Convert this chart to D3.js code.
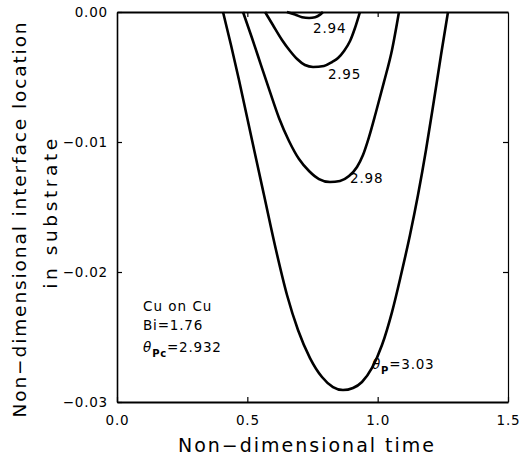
<!DOCTYPE html>
<html><head><meta charset="utf-8">
<script src="https://cdn.jsdelivr.net/npm/d3@7/dist/d3.min.js"></script>
<style>
html,body{margin:0;padding:0;background:#fff;}
text{font-family:"DejaVu Sans",sans-serif;fill:#000;}
</style></head>
<body><svg id="c" width="522" height="460"></svg>
<script>
// ---- data ----
const xTicks = [0.0, 0.5, 1.0, 1.5];
const yTicks = [0.00, -0.01, -0.02, -0.03];
const innerXTicks = [0.5, 1.0];
const innerYTicks = [-0.01, -0.02];

// theta_P = 3.03
const t303 = [0.4067,0.4373,0.4680,0.5179,0.5639,0.6100,0.6522,0.6944,0.7404,0.7864,0.8286,0.8670,0.9054,0.9399,0.9782,1.0166,1.0550,1.0895,1.1240,1.1547,1.1854,1.2161,1.2430,1.2698];
const v303 = [0,-0.00254,-0.00523,-0.00985,-0.01408,-0.01831,-0.02177,-0.02446,-0.02662,-0.02808,-0.02885,-0.02908,-0.02892,-0.02846,-0.02738,-0.02562,-0.02308,-0.02023,-0.01715,-0.01408,-0.01062,-0.00677,-0.00331,0];
// theta_P = 2.98
const t298 = [0.4834,0.5179,0.5524,0.5869,0.6215,0.6598,0.6982,0.7366,0.7749,0.8171,0.8555,0.8900,0.9207,0.9437,0.9667,0.9936,1.0243,1.0550,1.0818];
const v298 = [0,-0.0020,-0.00408,-0.00615,-0.00815,-0.00992,-0.01131,-0.01223,-0.01285,-0.01308,-0.0130,-0.01262,-0.01192,-0.0110,-0.00962,-0.00769,-0.00538,-0.00292,0];
// theta_P = 2.95
const t295 = [0.568,0.598,0.633,0.664,0.691,0.721,0.752,0.794,0.825,0.848,0.871,0.894,0.913,0.932];
const v295 = [0,-0.0010,-0.00215,-0.0030,-0.00362,-0.00408,-0.00423,-0.00415,-0.00385,-0.00354,-0.0030,-0.00223,-0.00123,0];
// theta_P = 2.94
const t294 = [0.652,0.683,0.710,0.737,0.760,0.779,0.790];
const v294 = [0,-0.0002,-0.0004,-0.00046,-0.0004,-0.0002,0];

const series = [
  {t:t303, v:v303},
  {t:t298, v:v298},
  {t:t295, v:v295},
  {t:t294, v:v294}
];
const curveLabels = ["2.94","2.95","2.98"];
const curveLabelPos = [[0.752,-0.00162],[0.809,-0.00515],[0.894,-0.01315]];

// ---- layout ----
const L=117, R=508, T=12, B=402;
const svg = d3.select("#c");
const x = d3.scaleLinear().domain([0,1.5]).range([L,R]);
const y = d3.scaleLinear().domain([-0.03,0]).range([B,T]);

const fs = "13.5px", ls = "0.8px";
const gx = svg.append("g").attr("transform",`translate(0,${B})`)
  .call(d3.axisBottom(x).tickValues(xTicks).tickFormat(d3.format(".1f")).tickSizeInner(-5).tickSizeOuter(0).tickPadding(13));
const gy = svg.append("g").attr("transform",`translate(${L},0)`)
  .call(d3.axisLeft(y).tickValues(yTicks).tickFormat(d3.format(".2f")).tickSizeInner(-5).tickSizeOuter(0).tickPadding(9));
const gt = svg.append("g").attr("transform",`translate(0,${T})`)
  .call(d3.axisTop(x).tickValues(innerXTicks).tickFormat("").tickSizeInner(-5).tickSizeOuter(0));
const gr = svg.append("g").attr("transform",`translate(${R},0)`)
  .call(d3.axisRight(y).tickValues(innerYTicks).tickFormat("").tickSizeInner(-5).tickSizeOuter(0));

[gx,gy,gt,gr].forEach(g=>{
  g.selectAll("text").style("font-size",fs).style("letter-spacing",ls).attr("fill","#000");
  g.selectAll(".tick line").attr("stroke","#000").attr("stroke-width",1.2);
});
gx.select(".domain").attr("stroke","#000").attr("stroke-width",2);
gy.select(".domain").attr("stroke","#000").attr("stroke-width",1.6);
gt.select(".domain").attr("stroke","#000").attr("stroke-width",2.2);
gr.select(".domain").attr("stroke","#000").attr("stroke-width",1.2);

// curves
const line = d3.line().x(d=>x(d[0])).y(d=>y(d[1])).curve(d3.curveMonotoneX);
series.forEach(s=>{
  const pts = s.t.map((tt,i)=>[tt,s.v[i]]);
  svg.append("path").attr("d",line(pts)).attr("fill","none")
    .attr("stroke","#000").attr("stroke-width",2.6).attr("stroke-linejoin","round");
});

// curve labels
curveLabels.forEach((lab,i)=>{
  svg.append("text").attr("x",x(curveLabelPos[i][0])).attr("y",y(curveLabelPos[i][1]))
    .style("font-size",fs).style("letter-spacing",ls).text(lab);
});
const tp = svg.append("text").attr("x",x(0.978)).attr("y",y(-0.02746)).style("font-size",fs).style("letter-spacing",ls);
tp.append("tspan").style("font-style","italic").text("θ");
tp.append("tspan").attr("dy",5).style("font-size","10px").style("font-weight","bold").text("P");
tp.append("tspan").attr("dy",-5).text("=3.03");

// annotation block
const ax = x(0.1);
svg.append("text").attr("x",ax).attr("y",y(-0.02297)).style("font-size",fs).style("letter-spacing","1px").text("Cu on Cu");
svg.append("text").attr("x",ax).attr("y",y(-0.02446)).style("font-size",fs).style("letter-spacing",ls).text("Bi=1.76");
const tc = svg.append("text").attr("x",ax).attr("y",y(-0.02615)).style("font-size",fs).style("letter-spacing",ls);
tc.append("tspan").style("font-style","italic").text("θ");
tc.append("tspan").attr("dy",5).style("font-size","10px").style("font-weight","bold").text("Pc");
tc.append("tspan").attr("dy",-5).text("=2.932");

// axis titles
svg.append("text").attr("x",307).attr("y",452).attr("text-anchor","middle")
  .style("font-size","19px").style("letter-spacing","2px").text("Non\u2212dimensional time");
svg.append("text").attr("transform","translate(26,219) rotate(-90)").attr("text-anchor","middle")
  .style("font-size","18.5px").style("letter-spacing","1.9px").text("Non\u2212dimensional interface location");
svg.append("text").attr("transform","translate(57,212) rotate(-90)").attr("text-anchor","middle")
  .style("font-size","18.5px").style("letter-spacing","3.6px").text("in substrate");
</script></body></html>
